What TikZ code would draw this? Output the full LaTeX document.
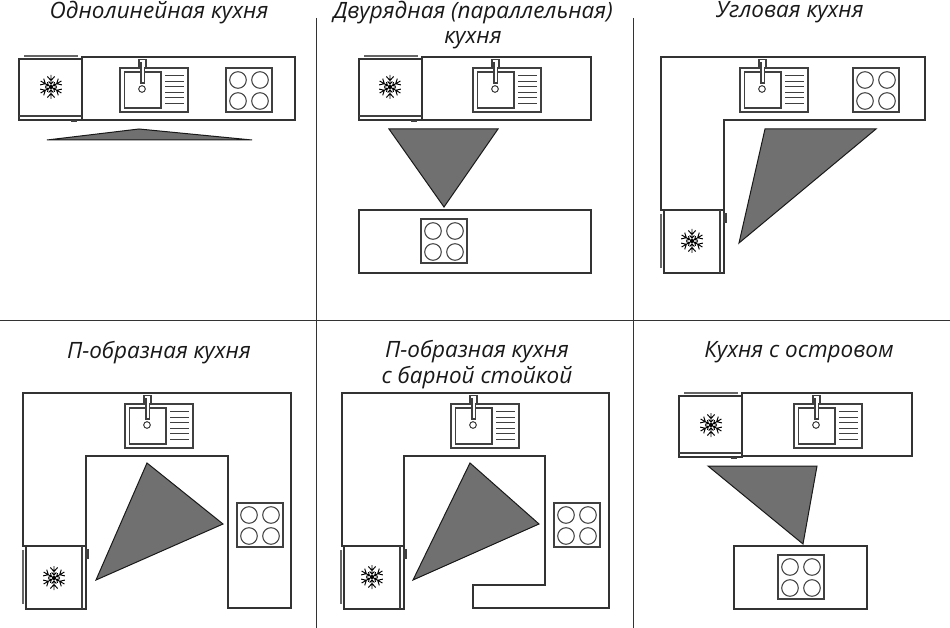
\documentclass[tikz,border=0pt]{standalone}
\usepackage{fontspec}
\setmainfont{Open Sans}
\tikzset{x=1pt,y=-1pt,
 wall/.style={draw=black!80,line width=1.1pt,fill=white},
 thin part/.style={draw=black!75,line width=1.05pt},
 tri/.style={draw=black!90,line width=1pt,fill=black!56,line join=miter},
 divider/.style={draw=black!80,line width=1pt},
 title/.style={font=\itshape\fontsize{22.5}{25.5}\selectfont,inner sep=0pt,text=black!90,align=center}}
\newcommand{\snowflake}[2]{\begin{scope}[shift={(#1,#2)}]
 \foreach \a in {30,90,...,330}{
  \draw[black,line width=0.95pt,rotate=\a,x=1pt,y=1pt] (0,0)--(12,0) (6.5,0)--(10.5,3.6) (6.5,0)--(10.5,-3.6) (3,0)--(5.5,2.4) (3,0)--(5.5,-2.4);}
 \fill[black] (0,0) circle (2);
\end{scope}}
\newcommand{\sinkunit}[2]{\begin{scope}[shift={(#1,#2)}]
 \draw[thin part,fill=white] (0,0) rectangle (68,44);
 \draw[thin part] (4.5,4) rectangle (41,40);
 \draw[thin part,fill=white] (22,21) circle (3.3);
 \draw[thin part,fill=white] (19,-8.5) -- (26,-8.5) -- (26,0) -- (24.5,0) -- (24.5,15) -- (21,15) -- (21,-5) -- (19.8,-5) -- (19.8,0) -- (19,0) -- cycle;
 \foreach \y in {7.7,13.3,18.7,24.3,29.7,35.3}{\draw[thin part] (45,\y) -- (64,\y);}
\end{scope}}
\newcommand{\hobunit}[2]{\begin{scope}[shift={(#1,#2)}]
 \draw[thin part,fill=white] (0,0) rectangle (46,44);
 \foreach \x/\y in {12/12,34/12,12/33,34/33}{\draw[thin part] (\x,\y) circle (8.3);}
\end{scope}}
\newcommand{\fridgeH}[2]{\begin{scope}[shift={(#1,#2)}]
 \draw[wall] (0,0) rectangle (63,61);
 \draw[thin part] (0,57) -- (63,57);
 \draw[line width=1.2pt,draw=black!60] (5,-3) -- (59,-3);
 \fill[black!75] (52,61) rectangle (58,63);
\end{scope}}
\newcommand{\fridgeV}[2]{\begin{scope}[shift={(#1,#2)}]
 \draw[wall] (0,0) rectangle (60,63);
 \draw[thin part] (56,0) -- (56,63);
 \draw[line width=1.2pt,draw=black!60] (-3,4) -- (-3,58);
 \draw[thin part,fill=black!60] (60,4) rectangle (62,12);
\end{scope}}
\begin{document}
\begin{tikzpicture}
\useasboundingbox (0,0) rectangle (950,628);
\coordinate (vat) at (316,18); \coordinate (vab) at (316,628);
\coordinate (vbt) at (633,18); \coordinate (vbb) at (633,628);
\coordinate (hl) at (0,320); \coordinate (hr) at (950,320);
\draw[divider] (vat)--(vab) (vbt)--(vbb) (hl)--(hr);
\node[title] (t1) at (159,12.5) {Однолинейная кухня};
\node[title] (t2) at (473,25) {Двурядная (параллельная)\\кухня};
\node[title] (t3) at (790,12.5) {Угловая кухня};
\node[title] (t4) at (159,352.5) {П-образная кухня};
\node[title] (t5) at (477,364.5) {П-образная кухня\\с барной стойкой};
\node[title] (t6) at (799,352.5) {Кухня с островом};
% panel 1
\draw[wall] (82,57) rectangle (295,120);
\fridgeH{19}{59}\snowflake{51}{87}
\sinkunit{120}{68}\hobunit{226}{68}
\draw[tri] (47,140)--(139,129)--(252,140)--cycle;
% panel 2
\draw[wall] (422,57) rectangle (591,120);
\fridgeH{359}{59}\snowflake{390}{87}
\sinkunit{473}{68}
\draw[tri] (389,129)--(498,129)--(444,207)--cycle;
\draw[wall] (359,210) rectangle (591,273);
\hobunit{421}{219}
% panel 3
\draw[wall] (661,57)--(925,57)--(925,120)--(724,120)--(724,210)--(661,210)--cycle;
\fridgeV{664}{210}\snowflake{692}{241}
\sinkunit{740}{68}\hobunit{853}{68}
\draw[tri] (765,129)--(876,129)--(739,243)--cycle;
% panel 4
\draw[wall] (23,393)--(291,393)--(291,608)--(228,608)--(228,456)--(86,456)--(86,546)--(23,546)--cycle;
\fridgeV{26}{546}\snowflake{54}{578}
\sinkunit{125}{404}\hobunit{237}{503}
\draw[tri] (147,463)--(223,524)--(96,580)--cycle;
% panel 5
\draw[wall] (342,393)--(609,393)--(609,608)--(473,608)--(473,585)--(545,585)--(545,456)--(404,456)--(404,546)--(342,546)--cycle;
\fridgeV{344}{546}\snowflake{372}{577}
\sinkunit{451}{404}\hobunit{554}{503}
\draw[tri] (470,463)--(539,524)--(413,580)--cycle;
% panel 6
\draw[wall] (742,393) rectangle (912,456);
\fridgeH{679}{396}\snowflake{711}{425}
\sinkunit{794}{404}
\draw[tri] (708,466)--(817,466)--(803,544)--cycle;
\draw[wall] (734,546) rectangle (867,609);
\hobunit{778}{555}
\end{tikzpicture}
\end{document}
